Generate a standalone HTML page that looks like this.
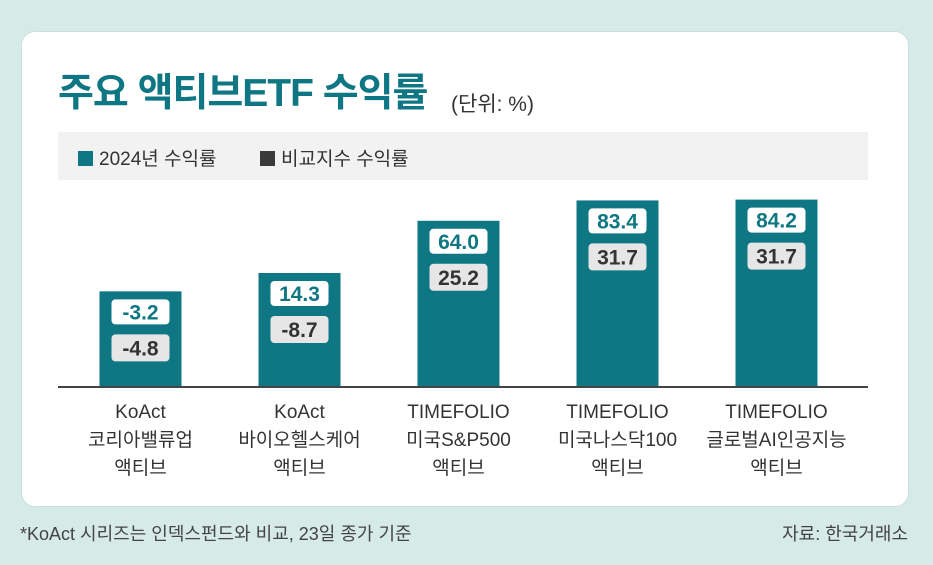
<!DOCTYPE html>
<html><head><meta charset="utf-8"><style>
body{margin:0;width:933px;height:565px;background:#d6eae7;font-family:"Liberation Sans","Noto Sans CJK KR",sans-serif;position:relative;overflow:hidden}
.card{position:absolute;left:21px;top:31px;width:886px;height:474px;background:#fff;border-radius:14px;border:1px solid #c8dfdb}
.title{position:absolute;left:58px;top:62px;font-size:39px;font-weight:bold;color:#0e7783;letter-spacing:-1px}
.unit{position:absolute;left:451px;top:88px;font-size:21px;color:#333}
.legend{position:absolute;left:58px;top:132px;width:810px;height:48px;background:#f2f2f2}
.foot{position:absolute;top:520px;font-size:18px;color:#444}
</style></head><body>
<div class="card"></div>
<div class="title">주요 액티브ETF 수익률</div>
<div class="unit">(단위: %)</div>
<div class="legend">
<span style="position:absolute;left:20px;top:12px;font-size:19px;color:#333"><span style="display:inline-block;width:15px;height:15px;background:#0e7783;vertical-align:-1px;margin-right:6px"></span>2024년 수익률</span>
<span style="position:absolute;left:202px;top:12px;font-size:19px;color:#333"><span style="display:inline-block;width:15px;height:15px;background:#3a3a3a;vertical-align:-1px;margin-right:6px"></span>비교지수 수익률</span>
</div>
<svg id="chart" width="933" height="565" style="position:absolute;left:0;top:0"></svg>
<div class="foot" style="left:20px">*KoAct 시리즈는 인덱스펀드와 비교, 23일 종가 기준</div>
<div class="foot" style="right:25px">자료: 한국거래소</div>
<script>
const categories=[["KoAct","코리아밸류업","액티브"],["KoAct","바이오헬스케어","액티브"],["TIMEFOLIO","미국S&P500","액티브"],["TIMEFOLIO","미국나스닥100","액티브"],["TIMEFOLIO","글로벌AI인공지능","액티브"]];
const etfReturns=[-3.2,14.3,64.0,83.4,84.2];
const indexReturns=[-4.8,-8.7,25.2,31.7,31.7];
const NS="http://www.w3.org/2000/svg";
const svg=document.getElementById('chart');
const baseY=386, x0=60, slot=159, bw=82;
function xPos(i){return x0+slot*i+(slot-bw)/2+1;}
function yPos(v){return baseY-(98+v*1.05);}
function mk(t,a,txt){const e=document.createElementNS(NS,t);for(const k in a)e.setAttribute(k,a[k]);if(txt!=null)e.textContent=txt;svg.appendChild(e);return e;}
etfReturns.forEach((v,i)=>{
 const x=xPos(i),y=yPos(v);
 const b=mk('rect',{x:x,y:y,width:bw,height:baseY-y,fill:'#0e7783'});
 
 
 const w=mk('rect',{x:x+12,y:y+8,width:bw-24,height:25,rx:4,fill:'#fff'});
 
 
 const t=mk('text',{x:x+bw/2,y:y+28,'text-anchor':'middle','font-size':21,'font-weight':'bold',fill:'#0e7783'},v.toFixed(1));
 
 
 const g=mk('rect',{x:x+12,y:y+43,width:bw-24,height:27,rx:4,fill:'#e6e6e6'});
 
 
 const t2=mk('text',{x:x+bw/2,y:y+64,'text-anchor':'middle','font-size':21,'font-weight':'bold',fill:'#333'},indexReturns[i].toFixed(1));
 
 
 categories[i].forEach((s,j)=>{
  const c=mk('text',{x:x+bw/2,y:418+j*28,'text-anchor':'middle','font-size':19,fill:'#333'},s);
  
  
 });
});
const ax=mk('line',{x1:58,x2:868,y1:baseY+1,y2:baseY+1,stroke:'#444','stroke-width':2});


</script>
</body></html>
